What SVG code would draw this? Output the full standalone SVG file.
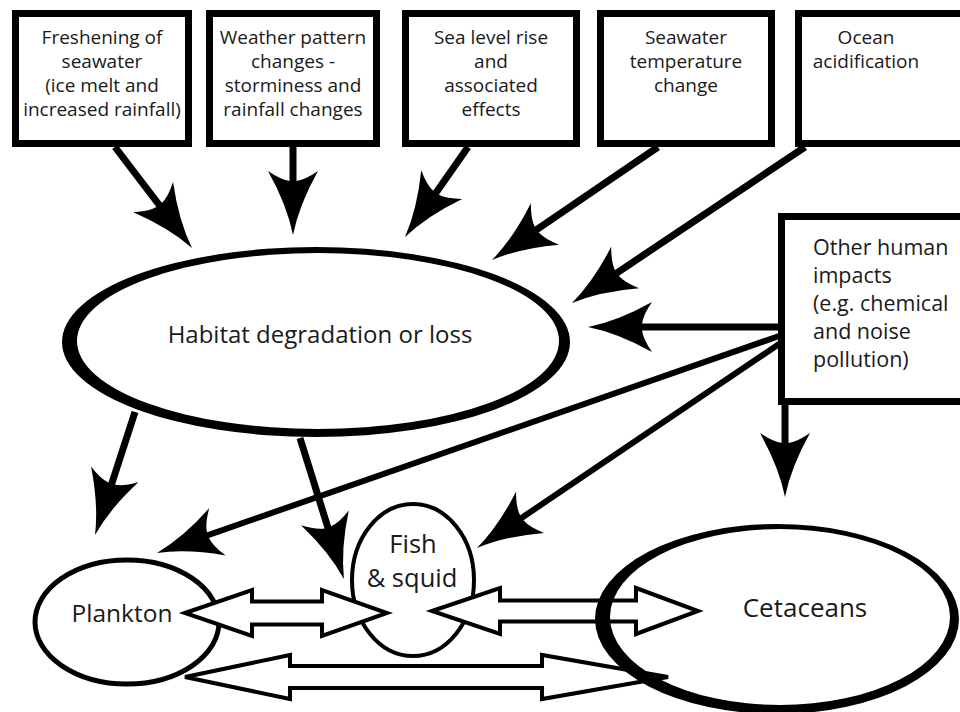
<svg xmlns="http://www.w3.org/2000/svg" width="960" height="712" viewBox="0 0 960 712">
<defs>
<style>
.box{fill:#fff;stroke:#000;stroke-width:7}
.t{font-family:"Open Sans","Liberation Sans",sans-serif;fill:#1a1a1a}
.bt{font-size:19px;text-anchor:middle}
.ot{font-size:21.5px}
.big{font-size:24px;text-anchor:middle}
.mid{font-size:25.5px;text-anchor:middle}
.shaft{stroke:#000;stroke-width:7;fill:none}
.thin{stroke-width:6}
.dbl{fill:#fff;stroke:#000;stroke-width:4;stroke-linejoin:miter}
.ring{fill:#000;fill-rule:evenodd}
</style>
<marker id="head" markerUnits="userSpaceOnUse" markerWidth="120" markerHeight="120" refX="0" refY="0" viewBox="-60 -60 120 120" orient="auto" overflow="visible">
<path d="M30,0 Q0,-6 -34,-25 Q-25,-12 -24,-3 L-24,3 Q-25,12 -34,25 Q0,6 30,0 Z" fill="#000"/>
</marker>
</defs>

<g id="box-freshening">
<rect class="box" x="15.5" y="13.5" width="173" height="130"/>
<text class="t bt" x="102" y="44">Freshening of</text>
<text class="t bt" x="102" y="68">seawater</text>
<text class="t bt" x="102" y="92">(ice melt and</text>
<text class="t bt" x="102" y="116">increased rainfall)</text>
</g>
<g id="box-weather">
<rect class="box" x="209.5" y="13.5" width="167" height="130"/>
<text class="t bt" x="293" y="44">Weather pattern</text>
<text class="t bt" x="293" y="68">changes -</text>
<text class="t bt" x="293" y="92">storminess and</text>
<text class="t bt" x="293" y="116">rainfall changes</text>
</g>
<g id="box-sealevel">
<rect class="box" x="405.5" y="13.5" width="171" height="130"/>
<text class="t bt" x="491" y="44">Sea level rise</text>
<text class="t bt" x="491" y="68">and</text>
<text class="t bt" x="491" y="92">associated</text>
<text class="t bt" x="491" y="116">effects</text>
</g>
<g id="box-temperature">
<rect class="box" x="600.5" y="13.5" width="171" height="130"/>
<text class="t bt" x="686" y="44">Seawater</text>
<text class="t bt" x="686" y="68">temperature</text>
<text class="t bt" x="686" y="92">change</text>
</g>
<g id="box-acidification">
<rect class="box" x="798.5" y="13.5" width="175" height="130"/>
<text class="t bt" x="866" y="44">Ocean</text>
<text class="t bt" x="866" y="68">acidification</text>
</g>
<g id="box-human">
<rect class="box" x="781.5" y="216.5" width="190" height="185"/>
<text class="t ot" x="813" y="255">Other human</text>
<text class="t ot" x="813" y="283">impacts</text>
<text class="t ot" x="813" y="311">(e.g. chemical</text>
<text class="t ot" x="813" y="339">and noise</text>
<text class="t ot" x="813" y="367">pollution)</text>
</g>

<g id="habitat">
<path class="ring" d="M62,342 a254,95 0 1,0 508,0 a254,95 0 1,0 -508,0 Z M77,341 a241,88 0 1,0 482,0 a241,88 0 1,0 -482,0 Z"/>
<text class="t big" x="320" y="343">Habitat degradation or loss</text>
</g>
<g id="plankton">
<ellipse cx="127" cy="622" rx="92" ry="62" fill="#fff" stroke="#000" stroke-width="5"/>
<text class="t mid" x="122" y="622" style="font-size:24.5px">Plankton</text>
</g>
<g id="fish">
<ellipse cx="413" cy="580" rx="61" ry="76" fill="#fff" stroke="#000" stroke-width="4"/>
<text class="t mid" x="413" y="553">Fish</text>
<text class="t mid" x="412" y="587">&amp; squid</text>
</g>

<g id="connectors">
<line class="shaft" x1="115" y1="147" x2="173.8" y2="224.1" marker-end="url(#head)"/>
<line class="shaft" x1="293" y1="147" x2="293" y2="205" marker-end="url(#head)"/>
<line class="shaft" x1="468" y1="147" x2="422.2" y2="212.4" marker-end="url(#head)"/>
<line class="shaft" x1="658" y1="147" x2="516.8" y2="243.1" marker-end="url(#head)"/>
<line class="shaft" x1="805" y1="147" x2="596.9" y2="286.3" marker-end="url(#head)"/>
<line class="shaft" x1="782" y1="327" x2="618" y2="327" marker-end="url(#head)"/>
<line class="shaft thin" x1="782" y1="335" x2="185.3" y2="543.1" marker-end="url(#head)"/>
<line class="shaft thin" x1="782" y1="342" x2="501.9" y2="531.2" marker-end="url(#head)"/>
<line class="shaft" x1="135" y1="412" x2="104.3" y2="506.5" marker-end="url(#head)"/>
<line class="shaft" x1="300" y1="438" x2="335" y2="550.4" marker-end="url(#head)"/>
<line class="shaft" x1="785" y1="405" x2="785" y2="467" marker-end="url(#head)"/>
<polygon class="dbl" points="185,613 252,590 252,601.5 322,601.5 322,590 387,613 322,636 322,624.5 252,624.5 252,636"/>
<polygon class="dbl" points="432,611 500,588 500,600.5 636,600.5 636,588 698,611 636,634 636,621.5 500,621.5 500,634"/>
<polygon class="dbl" points="185,677 290,655 290,666 542,666 542,655 668,677 542,699 542,688 290,688 290,699"/>
</g>

<g id="cetaceans">
<path class="ring" d="M595,619 a182,95 0 1,0 364,0 a182,95 0 1,0 -364,0 Z M610,617 a170,88 0 1,0 340,0 a170,88 0 1,0 -340,0 Z"/>
<text class="t mid" x="805" y="617" style="font-size:26px">Cetaceans</text>
</g>
</svg>
